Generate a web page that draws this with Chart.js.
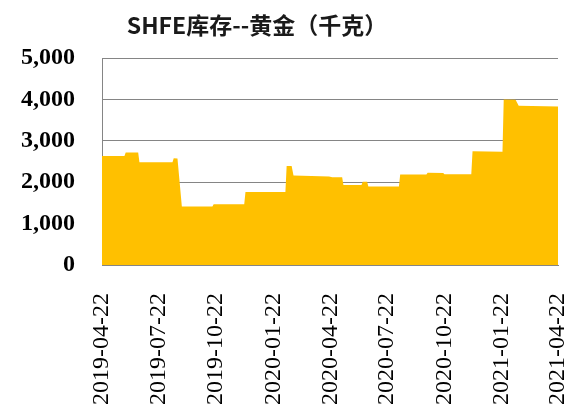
<!DOCTYPE html>
<html>
<head>
<meta charset="utf-8">
<script src="https://cdn.jsdelivr.net/npm/chart.js@4.4.0/dist/chart.umd.min.js"></script>
<style>
  html, body { margin: 0; padding: 0; background: #fff; }
  #wrap { width: 571px; height: 410px; }
</style>
</head>
<body>
<div id="wrap"><canvas id="grafica"></canvas></div>
<script>
// datos: puntos de cambio del inventario (kg)
const fechas = [
  '2019-04-22', '2019-05-28', '2019-05-30', '2019-06-19', '2019-06-21',
  '2019-08-13', '2019-08-15', '2019-08-21', '2019-08-28', '2019-10-16',
  '2019-10-18', '2019-12-06', '2019-12-08', '2020-02-10', '2020-02-12',
  '2020-02-20', '2020-02-23', '2020-04-20', '2020-04-25', '2020-05-11',
  '2020-05-13', '2020-06-11', '2020-06-13', '2020-06-20', '2020-06-22',
  '2020-08-10', '2020-08-12', '2020-09-23', '2020-09-25', '2020-10-20',
  '2020-10-22', '2020-12-04', '2020-12-06', '2021-01-23', '2021-01-25',
  '2021-02-13', '2021-02-18', '2021-04-22'
];
const inventario = [
  2630, 2630, 2720, 2720, 2480,
  2480, 2580, 2570, 1415, 1415,
  1470, 1470, 1765, 1765, 2390,
  2390, 2160, 2140, 2120, 2120,
  1935, 1935, 2010, 2010, 1895,
  1895, 2185, 2185, 2230, 2225,
  2195, 2195, 2750, 2735, 4000,
  3990, 3845, 3830
];
const etiquetasX = [
  '2019-04-22', '2019-07-22', '2019-10-22', '2020-01-22', '2020-04-22',
  '2020-07-22', '2020-10-22', '2021-01-22', '2021-04-22'
];
const ticksY = [0, 1000, 2000, 3000, 4000, 5000];
const titulo = 'SHFE库存--黄金（千克）';

const inicio = Date.UTC(2019, 3, 22);
function dia(f) {
  const p = f.split('-').map(Number);
  return Math.round((Date.UTC(p[0], p[1] - 1, p[2]) - inicio) / 86400000);
}

const puntos = fechas.map((f, i) => ({ x: dia(f), y: inventario[i] }));
const gris = '#858585';

// titulo dibujado a mano (va algo a la izquierda del centro)
const pluginTitulo = {
  id: 'tituloManual',
  afterDraw(chart) {
    const c = chart.ctx;
    c.save();
    c.font = "bold 23px 'Noto Sans CJK SC', 'Noto Sans', sans-serif";
    c.fillStyle = '#1a1a1a';
    c.textAlign = 'center';
    c.textBaseline = 'middle';
    c.fillText(titulo, 257, 25);
    c.restore();
  }
};

new Chart(document.getElementById('grafica'), {
  type: 'line',
  data: {
    datasets: [{
      data: puntos,
      backgroundColor: '#FFC000',
      borderWidth: 0,
      pointRadius: 0,
      fill: 'origin',
      tension: 0
    }]
  },
  plugins: [pluginTitulo],
  options: {
    responsive: true,
    maintainAspectRatio: false,
    animation: false,
    layout: { padding: { left: 0, right: 13, top: 58, bottom: 0 } },
    plugins: {
      legend: { display: false },
      tooltip: { enabled: false },
      title: { display: false }
    },
    scales: {
      x: {
        type: 'linear',
        min: 0,
        max: dia(etiquetasX[etiquetasX.length - 1]),
        afterBuildTicks: (eje) => { eje.ticks = etiquetasX.map(f => ({ value: dia(f) })); },
        afterFit: (eje) => {
          eje.height = 145;
          eje.paddingLeft = 0;
          eje.paddingRight = 0;
        },
        grid: { display: false, drawTicks: false },
        border: { display: true, color: gris, width: 1 },
        ticks: {
          autoSkip: false,
          minRotation: 90,
          maxRotation: 90,
          padding: 28,
          color: '#000',
          font: { family: "'Liberation Serif', serif", size: 24 },
          callback: (v) => {
            const i = etiquetasX.findIndex(f => dia(f) === v);
            return i >= 0 ? etiquetasX[i] : '';
          }
        }
      },
      y: {
        min: 0,
        max: 5000,
        afterBuildTicks: (eje) => { eje.ticks = ticksY.map(v => ({ value: v })); },
        afterFit: (eje) => {
          eje.width = 102;
          eje.paddingTop = 0;
          eje.paddingBottom = 0;
        },
        grid: { color: gris, lineWidth: 1, drawTicks: false },
        border: { display: true, color: gris, width: 1 },
        ticks: {
          padding: 27,
          color: '#000',
          font: { family: "'Liberation Serif', serif", size: 24, weight: 'bold' },
          callback: (v) => v.toLocaleString('en-US')
        }
      }
    }
  }
});
</script>
</body>
</html>
